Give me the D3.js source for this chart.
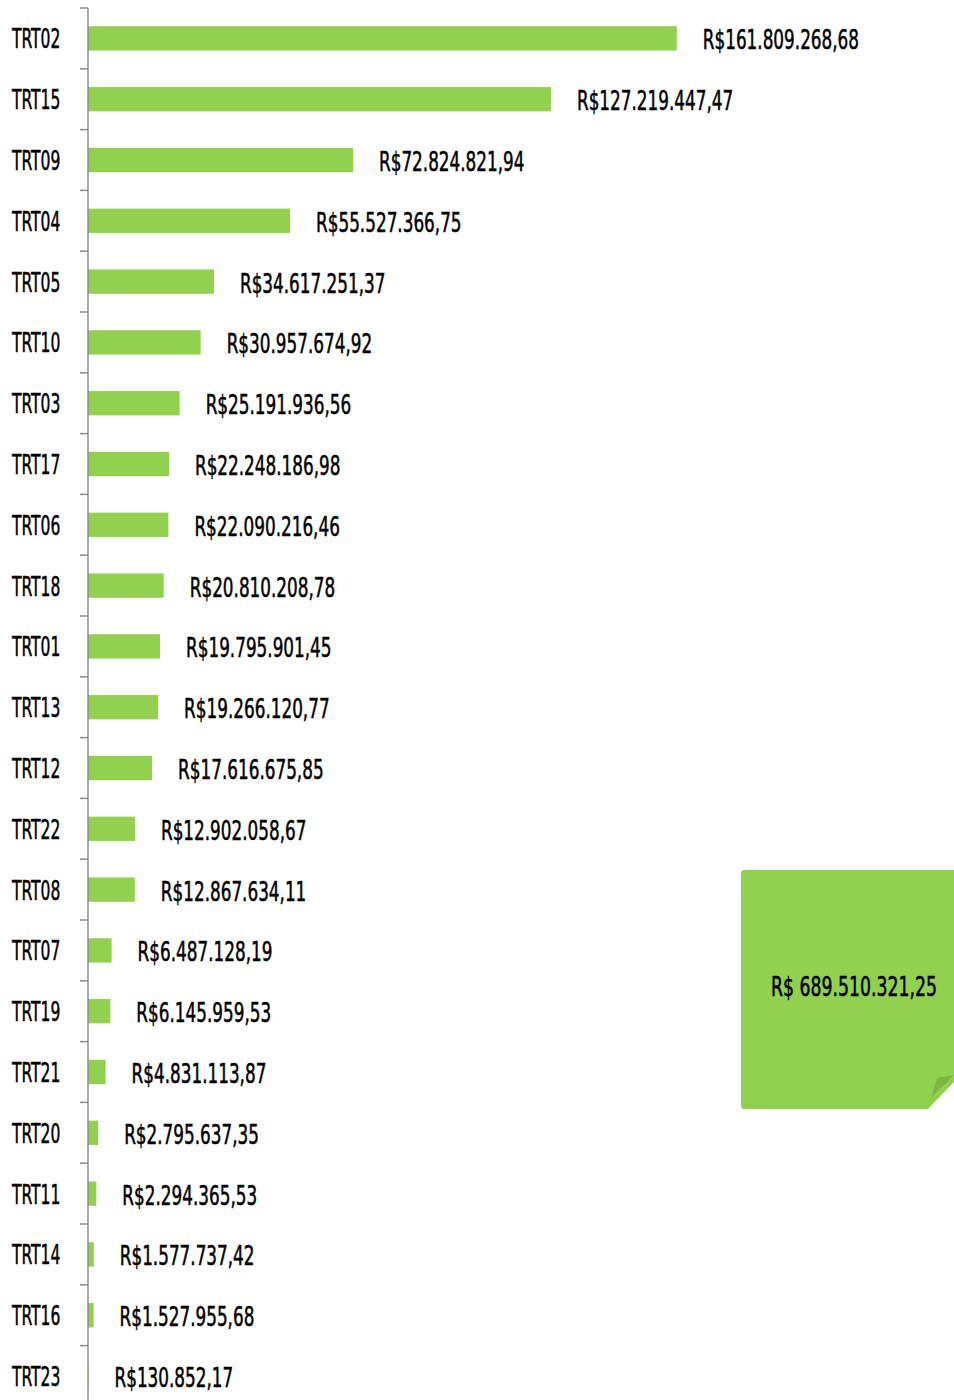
<!DOCTYPE html>
<html>
<head>
<meta charset="utf-8">
<script src="https://cdn.jsdelivr.net/npm/d3@7"></script>
<style>
  body { margin: 0; background: #fff; }
  text { font-family: "Liberation Sans Narrow", "DejaVu Sans Condensed", sans-serif; fill: #000; stroke: #000; stroke-width: 0.5px; }
</style>
</head>
<body>
<div id="chart"></div>
<script>
// data
var categories = ["TRT02", "TRT15", "TRT09", "TRT04", "TRT05", "TRT10", "TRT03", "TRT17", "TRT06", "TRT18", "TRT01", "TRT13",
                  "TRT12", "TRT22", "TRT08", "TRT07", "TRT19", "TRT21", "TRT20", "TRT11", "TRT14", "TRT16", "TRT23"];
var values = [161809268.68, 127219447.47, 72824821.94, 55527366.75, 34617251.37, 30957674.92, 25191936.56, 22248186.98,
              22090216.46, 20810208.78, 19795901.45, 19266120.77, 17616675.85, 12902058.67, 12867634.11, 6487128.19,
              6145959.53, 4831113.87, 2795637.35, 2294365.53, 1577737.42, 1527955.68, 130852.17];
var totalLabel = "R$ 689.510.321,25";

var width = 954, height = 1400;
var axisX = 88;

var svg = d3.select("#chart")
  .append("svg")
  .attr("width", width)
  .attr("height", height);

// scales
var x = d3.scaleLinear()
  .domain([0, 180000000])
  .range([axisX, axisX + 655]);

var y = d3.scaleBand()
  .domain(categories)
  .range([8, 8 + 60.8 * categories.length])
  .paddingInner(0.6)
  .paddingOuter(0.3);

var step = y.step();

// brazilian currency format
var fmt = d3.formatLocale({decimal: ",", thousands: ".", grouping: [3], currency: ["R$", ""]}).format("$,.2f");

// bars
svg.selectAll(".bar")
  .data(values)
  .enter()
  .append("rect")
  .attr("class", "bar")
  .attr("x", x(0))
  .attr("y", function(d, i) { return y(categories[i]); })
  .attr("width", function(d) { return x(d) - x(0); })
  .attr("height", y.bandwidth())
  .style("fill", "#92d050");

// value labels
svg.selectAll(".val")
  .data(values)
  .enter()
  .append("text")
  .attr("class", "val")
  .attr("transform", function(d, i) {
    return "translate(" + (x(d) + 26) + "," + (y(categories[i]) + y.bandwidth() / 2 + 11) + ") scale(0.72,1)";
  })
  .style("font-size", "26px")
  .text(function(d) { return fmt(d); });

// axis line + ticks at band boundaries
var axis = svg.append("g");
axis.append("line")
  .attr("x1", axisX).attr("x2", axisX)
  .attr("y1", 8).attr("y2", height)
  .style("stroke", "#8c8c8c")
  .style("stroke-width", 1.5);

axis.selectAll(".tick")
  .data(d3.range(categories.length + 1))
  .enter()
  .append("line")
  .attr("x1", axisX - 8).attr("x2", axisX)
  .attr("y1", function(i) { return 8 + i * step; })
  .attr("y2", function(i) { return 8 + i * step; })
  .style("stroke", "#8c8c8c")
  .style("stroke-width", 1.5);

// category labels
svg.selectAll(".cat")
  .data(categories)
  .enter()
  .append("text")
  .attr("class", "cat")
  .attr("transform", function(d) {
    return "translate(12," + (y(d) + y.bandwidth() / 2 + 10) + ") scale(0.64,1)";
  })
  .style("font-size", "27px")
  .text(function(d) { return d; });

// total note with folded corner
var note = svg.append("g");
note.append("path")
  .attr("d", "M744,870 L954,870 L954,1082 L928,1109 L744,1109 Q741,1109 741,1106 L741,873 Q741,870 744,870 Z")
  .style("fill", "#92d050");
note.append("path")
  .attr("d", "M954,1075 L937,1078 L931,1098 Z")
  .style("fill", "#7cb540");

note.append("text")
  .attr("text-anchor", "middle")
  .attr("transform", "translate(854,996) scale(0.74,1)")
  .style("font-size", "26px")
  .text(totalLabel);
</script>
</body>
</html>
